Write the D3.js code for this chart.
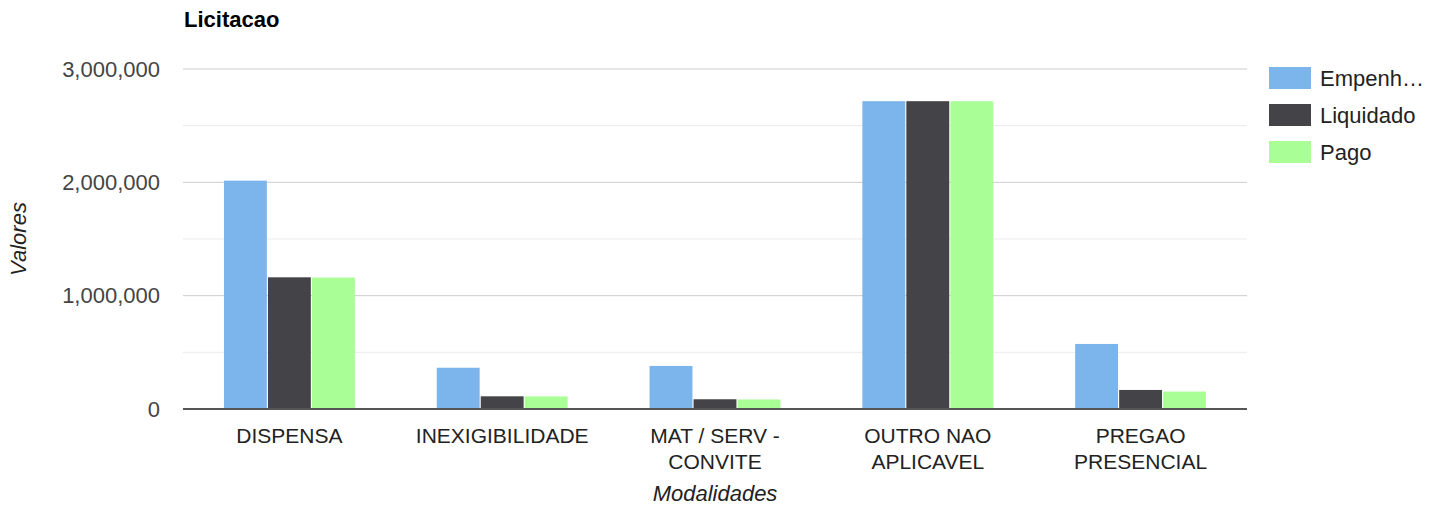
<!DOCTYPE html>
<html>
<head>
<meta charset="utf-8">
<script src="https://cdn.jsdelivr.net/npm/d3@7"></script>
<style>
  body { margin: 0; background: #fff; }
  svg { font-family: "Liberation Sans", Arial, sans-serif; }
</style>
</head>
<body>
<svg id="chart" width="1437" height="505"></svg>
<script>
// dados do grafico
const categories = [["DISPENSA"], ["INEXIGIBILIDADE"], ["MAT / SERV -", "CONVITE"], ["OUTRO NAO", "APLICAVEL"], ["PREGAO", "PRESENCIAL"]];
const seriesNames = ["Empenh\u2026", "Liquidado", "Pago"];
const empenhado = [2015000, 364000, 380000, 2716000, 574000];
const liquidado = [1162000, 112000, 86000, 2716000, 168000];
const pago = [1160000, 111000, 84000, 2716000, 154000];
const yTicks = [0, 1000000, 2000000, 3000000];
const colors = ["#7cb5ec", "#434348", "#a9ff96"];

const svg = d3.select("#chart");
const margin = { top: 69, right: 190, bottom: 96, left: 183 };
const width = 1437 - margin.left - margin.right;
const height = 505 - margin.top - margin.bottom;

const chart = svg.append("g").attr("transform", `translate(${margin.left}, ${margin.top})`);

const keys = categories.map(c => c.join(" "));
const data = keys.map((k, i) => ({ key: k, values: [empenhado[i], liquidado[i], pago[i]] }));

const x0 = d3.scaleBand().domain(keys).range([0, width]).paddingInner(0.385).paddingOuter(0.1925);
const x1 = d3.scaleBand().domain(d3.range(3)).range([0, x0.bandwidth()]).paddingInner(0.025);
const y = d3.scaleLinear().domain([0, 3000000]).range([height, 0]);

// linhas de grade (menores a cada 500 mil)
const gridVals = d3.range(0, 3000001, 500000);
chart.selectAll(".grid")
  .data(gridVals.filter(v => v > 0))
  .enter().append("line")
  .attr("x1", 0).attr("x2", width)
  .attr("y1", d => y(d)).attr("y2", d => y(d))
  .attr("stroke", d => d % 1000000 === 0 ? "#cccccc" : "#ebebeb")
  .attr("stroke-width", 1);

// eixo y
const yAxis = d3.axisLeft(y).tickValues(yTicks).tickSize(0).tickPadding(23).tickFormat(d3.format(","));
chart.append("g").call(yAxis)
  .call(g => g.select(".domain").remove())
  .selectAll("text")
  .style("font-size", "22px")
  .style("fill", "#444");

// barras
const groups = chart.selectAll(".grp")
  .data(data)
  .enter().append("g")
  .attr("transform", d => `translate(${x0(d.key)}, 0)`);

groups.selectAll("rect")
  .data(d => d.values.map((v, i) => ({ v, i })))
  .enter().append("rect")
  .attr("x", d => x1(d.i))
  .attr("width", x1.bandwidth())
  .attr("y", d => y(d.v))
  .attr("height", d => height - y(d.v))
  .attr("fill", d => colors[d.i]);

// linha de base
chart.append("line")
  .attr("x1", 0).attr("x2", width)
  .attr("y1", y(0)).attr("y2", y(0))
  .attr("stroke", "#555").attr("stroke-width", 2);

// rotulos das categorias
const xAxis = d3.axisBottom(x0).tickSize(0).tickFormat("");
const xg = chart.append("g").attr("transform", `translate(0, ${height})`).call(xAxis);
xg.select(".domain").remove();
xg.selectAll(".tick").each(function(d, i) {
  const t = d3.select(this).append("text")
    .attr("text-anchor", "middle")
    .style("font-size", "21px")
    .style("fill", "#222");
  categories[i].forEach((line, j) => {
    t.append("tspan").attr("x", 0).attr("y", 34 + j * 26).text(line);
  });
});

// titulos
svg.append("text")
  .attr("x", 184).attr("y", 27)
  .style("font-size", "22px").style("font-weight", "bold").style("fill", "#000")
  .text("Licitacao");

svg.append("text")
  .attr("x", margin.left + width / 2).attr("y", 501)
  .attr("text-anchor", "middle")
  .style("font-size", "22px").style("font-style", "italic").style("fill", "#222")
  .text("Modalidades");

svg.append("text")
  .attr("transform", `translate(26, ${margin.top + height / 2}) rotate(-90)`)
  .attr("text-anchor", "middle")
  .style("font-size", "22px").style("font-style", "italic").style("fill", "#222")
  .text("Valores");

// legenda
const legend = svg.append("g").attr("transform", "translate(1269, 67)");
const items = legend.selectAll("g")
  .data(seriesNames)
  .enter().append("g")
  .attr("transform", (d, i) => `translate(0, ${i * 37})`);
items.append("rect").attr("width", 42).attr("height", 22).attr("fill", (d, i) => colors[i]);
items.append("text").attr("x", 51).attr("y", 19)
  .style("font-size", "22px").style("fill", "#222")
  .text(d => d);
</script>
</body>
</html>
